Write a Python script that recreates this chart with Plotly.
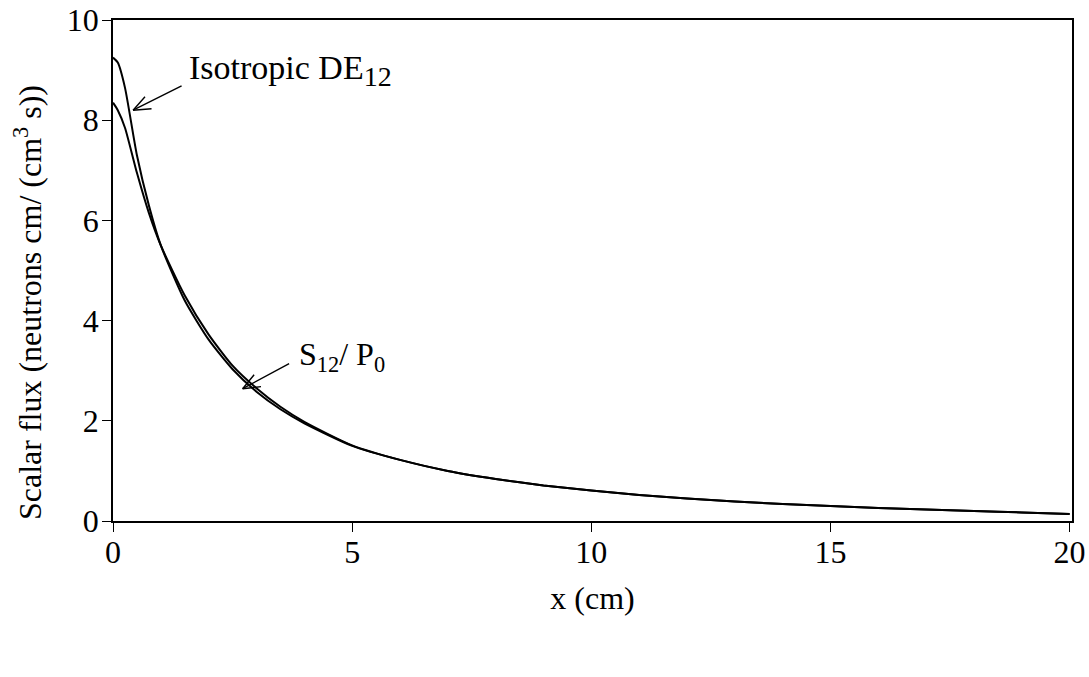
import math
import plotly.graph_objects as go

# ---- data ----
x_vals = [0, 0.1, 0.25, 0.5, 0.75, 1, 1.5, 2, 2.5, 3, 3.5, 4, 5, 6, 7, 8, 9,
          10, 11, 12, 13, 14, 15, 16, 17, 18, 19, 20]
de12_vals = [9.25, 9.15, 8.65, 7.3, 6.3, 5.5, 4.4, 3.62, 3.03, 2.58, 2.23, 1.95,
             1.5, 1.22, 1.0, 0.84, 0.71, 0.61, 0.52, 0.45, 0.39, 0.34, 0.30,
             0.26, 0.23, 0.20, 0.17, 0.14]
s12_vals = [8.35, 8.2, 7.85, 6.95, 6.15, 5.5, 4.5, 3.72, 3.1, 2.65, 2.28, 1.98,
            1.51, 1.22, 1.0, 0.84, 0.71, 0.61, 0.52, 0.45, 0.39, 0.34, 0.30,
            0.26, 0.23, 0.20, 0.17, 0.14]
x_ticks = [0, 5, 10, 15, 20]
y_ticks = [0, 2, 4, 6, 8, 10]

FONT = "Liberation Serif"
FS = 32

fig = go.Figure()
fig.add_trace(go.Scatter(x=x_vals, y=de12_vals, mode="lines", name="Isotropic DE12",
                         line=dict(color="black", width=2, shape="spline", smoothing=0.6)))
fig.add_trace(go.Scatter(x=x_vals, y=s12_vals, mode="lines", name="S12/P0",
                         line=dict(color="black", width=2, shape="spline", smoothing=0.6)))


def add_arrow(fig, x, y, ax, ay, barb_len=20, barb_ang=22):
    """Open (V-shaped) arrow: tip at data (x, y), tail at pixel offset (ax, ay)."""
    common = dict(x=x, y=y, xref="x", yref="y", text="", showarrow=True,
                  arrowhead=0, arrowwidth=1.4, arrowcolor="black", standoff=0)
    fig.add_annotation(ax=ax, ay=ay, **common)
    ang = math.atan2(ay, ax)
    for s in (-1, 1):
        a = ang + s * math.radians(barb_ang)
        fig.add_annotation(ax=barb_len * math.cos(a), ay=barb_len * math.sin(a), **common)


add_arrow(fig, 0.42, 8.2, 50, -25)
add_arrow(fig, 2.71, 2.64, 48, -26)

fig.add_annotation(x=1.55, y=9.0, xref="x", yref="y", xanchor="left", yanchor="middle",
                   text="Isotropic DE<sub><span style='font-size:28px'>12</span></sub>",
                   showarrow=False, font=dict(family=FONT, size=34, color="black"))
fig.add_annotation(x=3.85, y=3.28, xref="x", yref="y", xanchor="left", yanchor="middle",
                   text="S<sub>12</sub>/ P<sub>0</sub>", showarrow=False,
                   font=dict(family=FONT, size=FS, color="black"))

# y-axis title (rotated annotation so it can sit slightly below centre, as in the reference)
fig.add_annotation(x=0, y=0.435, xref="paper", yref="paper", xanchor="center", yanchor="middle",
                   xshift=-85, textangle=-90, showarrow=False,
                   text="Scalar flux (neutrons cm/ (cm<sup>3</sup> s))",
                   font=dict(family=FONT, size=FS, color="black"))

axis_common = dict(showline=True, linecolor="black", linewidth=1.5, mirror=True,
                   ticks="outside", ticklen=9, tickwidth=1.2, tickcolor="black",
                   showgrid=False, zeroline=False, automargin=False,
                   ticklabeloverflow="allow",
                   tickfont=dict(family=FONT, size=FS, color="black"))

fig.update_layout(
    width=1089, height=677,
    margin=dict(l=113, r=17, t=20, b=156),
    plot_bgcolor="white", paper_bgcolor="white",
    showlegend=False,
    font=dict(family=FONT, size=FS, color="black"),
    xaxis=dict(range=[0, 20.05], tickvals=x_ticks, ticklabelstandoff=-7,
               title=dict(text="x (cm)", font=dict(family=FONT, size=FS), standoff=17),
               **axis_common),
    yaxis=dict(range=[0, 10], tickvals=y_ticks, ticklabelstandoff=-3,
               **axis_common),
)

fig.write_html("out.html",
               config={"displayModeBar": False},
               post_script="document.body.style.margin='0';document.body.style.overflow='hidden';")
